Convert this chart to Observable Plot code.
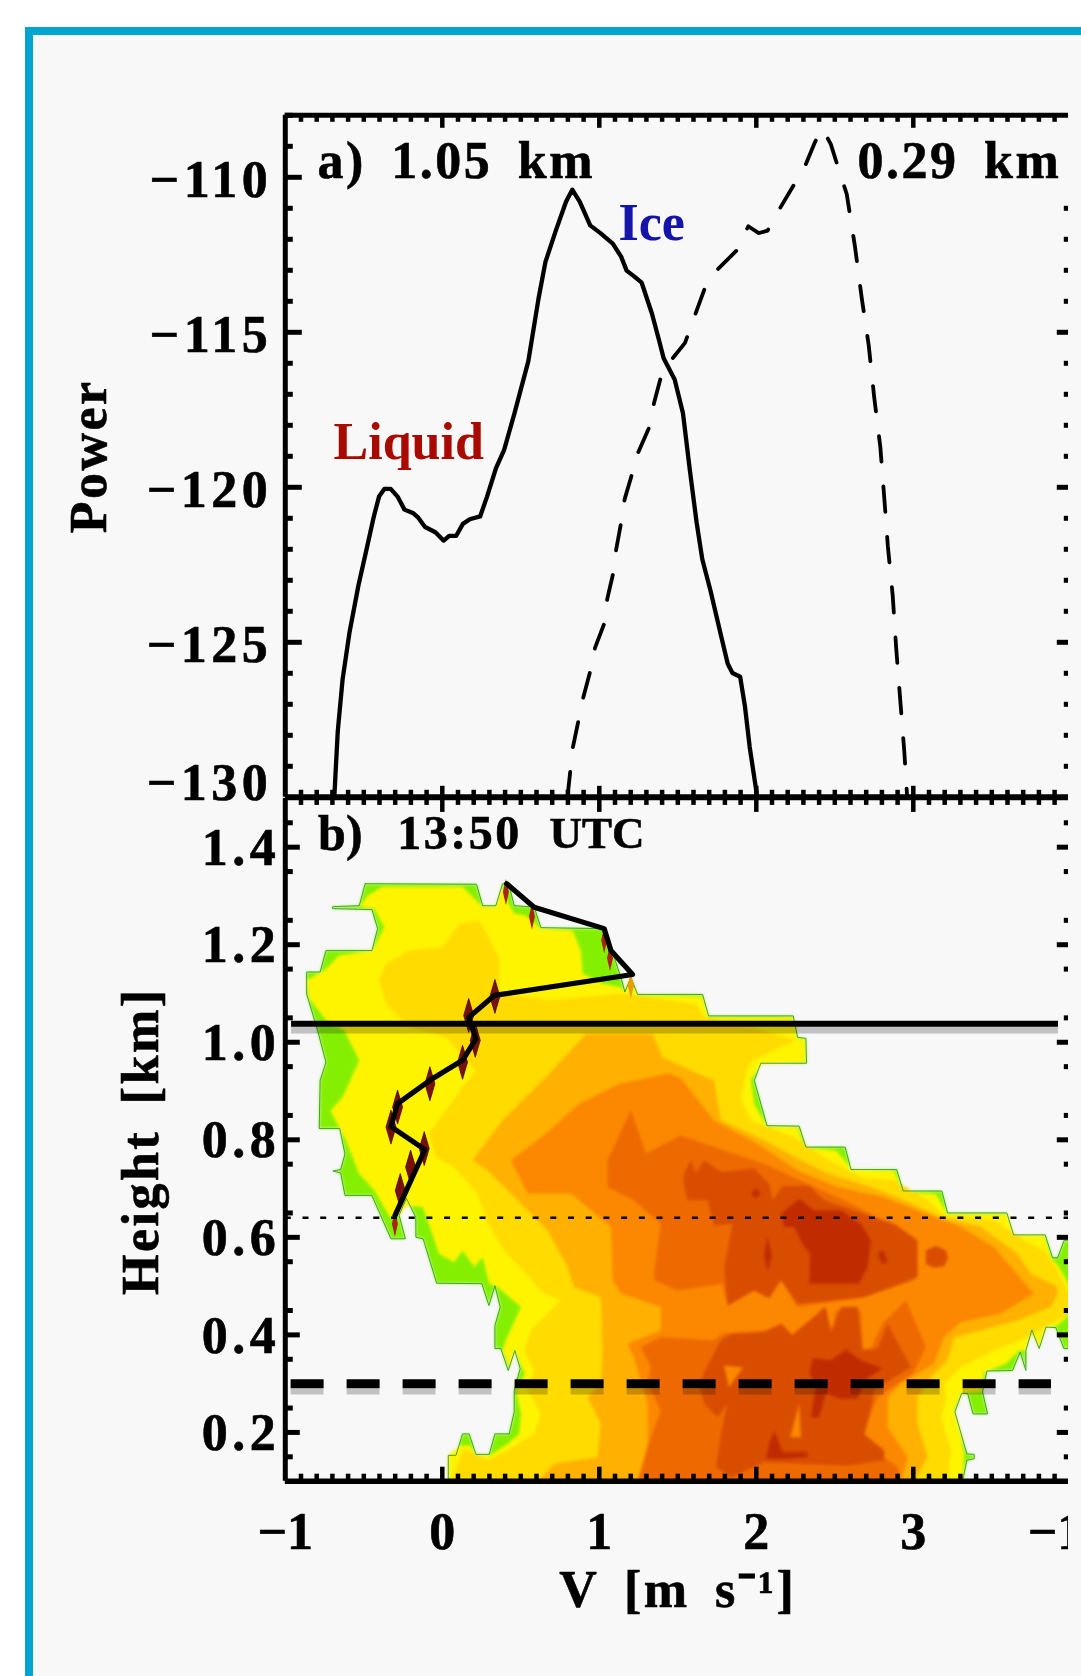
<!DOCTYPE html>
<html><head><meta charset="utf-8">
<script src="https://cdn.jsdelivr.net/npm/d3@7"></script>
<script src="https://cdn.jsdelivr.net/npm/@observablehq/plot@0.6"></script>
<style>
html,body{margin:0;padding:0;background:#fff}
#page{position:absolute;left:25px;top:27px;width:1056px;height:1649px;box-sizing:border-box;background:#f8f8f8;border-left:8px solid #00a6cf;border-top:8.5px solid #00a6cf}
#clip{position:absolute;left:0;top:0;width:1068px;height:1676px;overflow:hidden}
#clip>div{position:absolute;left:0;width:1081px}
svg{display:block;max-width:none !important;width:1081px}
</style></head><body>
<div id="page"></div>
<div id="clip"><div id="a" style="top:0"></div><div id="b" style="top:760px"></div></div>
<script>
// Panel a: Doppler spectra (velocity m/s, power)
const spectrum105km=[[-.688,-130],[-.666,-127.88],[-.635,-126.19],[-.591,-124.68],[-.534,-123.16],[-.482,-121.99],[-.438,-120.98],[-.403,-120.3],[-.368,-120.05],[-.329,-120.05],[-.285,-120.3],[-.241,-120.72],[-.184,-120.84],[-.153,-120.98],[-.11,-121.28],[-.044,-121.45],[.009,-121.72],[.044,-121.57],[.088,-121.57],[.131,-121.18],[.175,-121.03],[.241,-120.94],[.285,-120.3],[.342,-119.38],[.394,-118.79],[.46,-117.61],[.548,-115.93],[.613,-113.91],[.657,-112.73],[.723,-111.72],[.788,-110.79],[.828,-110.4],[.876,-110.79],[.942,-111.55],[1.007,-111.8],[1.086,-112.14],[1.139,-112.56],[1.174,-113.01],[1.218,-113.18],[1.27,-113.4],[1.336,-114.41],[1.38,-115.25],[1.41,-115.84],[1.48,-116.52],[1.533,-117.61],[1.577,-119.46],[1.62,-121.14],[1.656,-122.32],[1.708,-123.33],[1.774,-124.76],[1.818,-125.69],[1.848,-125.99],[1.897,-126.11],[1.927,-127.04],[1.958,-128.38],[2.006,-130]];
const spectrum029km=[[.797,-130],[.832,-128.38],[.898,-126.78],[.942,-125.94],[.972,-125.19],[1.029,-124.43],[1.051,-123.59],[1.086,-122.83],[1.108,-121.99],[1.139,-121.14],[1.161,-120.39],[1.205,-119.63],[1.248,-118.87],[1.314,-118.11],[1.349,-117.27],[1.393,-116.43],[1.467,-115.84],[1.546,-115.34],[1.612,-114.41],[1.673,-113.57],[1.752,-112.98],[1.875,-112.36],[1.949,-111.58],[2.015,-111.8],[2.072,-111.72],[2.146,-111.04],[2.234,-110.29],[2.313,-109.61],[2.374,-108.86],[2.422,-108.43],[2.475,-108.94],[2.527,-109.78],[2.576,-110.54],[2.628,-112.22],[2.672,-113.91],[2.716,-115.42],[2.751,-117.1],[2.79,-118.7],[2.817,-120.47],[2.838,-121.9],[2.869,-123.5],[2.891,-125.19],[2.917,-126.87],[2.943,-128.55],[2.961,-130]];
const powerTicks=[-110,-115,-120,-125];
const powerLabelLast=[-130];
const velocityTicks=[-1,0,1,2,3];
const heightTicks=[1.4,1.2,1,.8,.6,.4,.2];
const levels=["L0","L1","L2","L3","L4","L5","L6","L7"];
const levelColors=["#84f000","#fff400","#ffdb00","#ffb000","#fb8800","#ee6a00","#d94d00","#c02c00"];
// Panel b: filled contour boundaries [velocity, height km]
const contourL0=[[-.491,1.325],[.218,1.324],[.257,1.28],[.341,1.28],[.384,1.325],[.422,1.326],[.458,1.28],[.585,1.277],[.628,1.235],[1.021,1.233],[1.095,1.174],[1.138,1.133],[1.163,1.103],[1.201,1.133],[1.244,1.098],[1.658,1.098],[1.696,1.054],[2.235,1.054],[2.263,1.01],[2.316,1.008],[2.32,.957],[2.029,.957],[1.987,.922],[2.068,.829],[2.273,.828],[2.316,.785],[2.566,.785],[2.603,.739],[2.894,.739],[2.936,.695],[3.182,.695],[3.218,.65],[3.596,.65],[3.639,.605],[3.84,.605],[3.887,.558],[3.919,.558],[3.961,.594],[4,.594],[4,.372],[3.959,.372],[3.908,.415],[3.845,.416],[3.802,.372],[3.755,.41],[3.717,.368],[3.717,.327],[3.681,.365],[3.632,.327],[3.469,.326],[3.441,.283],[3.473,.238],[3.381,.238],[3.346,.28],[3.308,.28],[3.265,.242],[3.341,.156],[3.388,.155],[3.388,.146],[3.341,.143],[3.314,.1],[.038,.1],[.038,.153],[.087,.153],[.129,.197],[.171,.197],[.214,.155],[.299,.155],[.335,.197],[.426,.197],[.458,.242],[.458,.286],[.496,.331],[.462,.368],[.42,.327],[.373,.372],[.335,.372],[.335,.419],[.369,.457],[.335,.501],[.297,.46],[.252,.505],[-.036,.506],[-.122,.597],[-.168,.6],[-.169,.641],[-.229,.68],[-.275,.645],[-.235,.597],[-.327,.597],[-.449,.686],[-.62,.686],[-.647,.732],[-.697,.736],[-.647,.739],[-.62,.771],[-.653,.823],[-.784,.823],[-.778,.922],[-.741,.959],[-.794,1.024],[-.864,1.099],[-.864,1.144],[-.778,1.144],[-.741,1.188],[-.448,1.188],[-.412,1.233],[-.448,1.272],[-.699,1.274],[-.699,1.278],[-.529,1.28]];
const contourL1=[[-.476,1.301],[-.38,1.319],[.129,1.319],[.257,1.278],[.341,1.278],[.384,1.321],[.416,1.287],[.458,1.264],[.532,1.26],[.628,1.233],[.83,1.229],[.883,1.188],[.894,1.141],[1.021,1.12],[1.138,1.113],[1.165,1.103],[1.19,1.131],[1.244,1.096],[1.654,1.094],[1.696,1.051],[2.231,1.051],[2.263,1.007],[2.311,1.007],[2.316,.959],[2.034,.956],[1.966,.922],[1.987,.874],[2.068,.827],[2.263,.826],[2.305,.784],[2.507,.778],[2.582,.751],[2.603,.739],[2.878,.736],[2.936,.693],[3.144,.689],[3.218,.648],[3.596,.648],[3.639,.604],[3.834,.604],[3.876,.559],[3.929,.539],[4,.498],[4,.444],[3.919,.419],[3.845,.415],[3.8,.375],[3.749,.409],[3.717,.368],[3.675,.368],[3.59,.341],[3.452,.324],[3.431,.283],[3.303,.279],[3.26,.245],[3.292,.211],[3.324,.156],[3.314,.1],[.038,.1],[.038,.153],[.114,.173],[.178,.173],[.214,.153],[.305,.153],[.416,.177],[.49,.197],[.501,.238],[.469,.286],[.526,.32],[.462,.368],[.426,.334],[.384,.368],[.405,.389],[.501,.457],[.352,.498],[.299,.505],[.257,.559],[.203,.539],[.129,.573],[.076,.549],[-.02,.566],[-.094,.635],[-.125,.662],[-.229,.665],[-.276,.645],[-.334,.641],[-.432,.696],[-.531,.731],[-.614,.799],[-.713,.86],[-.635,.887],[-.529,.963],[-.625,1.024],[-.741,1.045],[-.848,1.09],[-.864,1.127],[-.752,1.147],[-.657,1.178],[-.444,1.188],[-.37,1.236],[-.434,1.274],[-.525,1.278]];
const contourL2=[[-.359,1.161],[-.211,1.188],[.002,1.195],[.108,1.243],[.235,1.25],[.362,1.174],[.362,1.1],[.703,1.086],[1.127,1.1],[1.615,1.079],[1.668,1.051],[1.976,1.031],[2.252,1.004],[1.976,.963],[1.945,.949],[1.902,.887],[1.966,.84],[2.241,.805],[2.432,.764],[2.666,.723],[2.878,.717],[3.091,.676],[3.197,.645],[3.515,.635],[3.706,.594],[3.834,.573],[3.919,.532],[4,.477],[4,.443],[3.855,.419],[3.685,.389],[3.515,.368],[3.303,.334],[3.197,.3],[3.208,.266],[3.176,.231],[3.24,.163],[3.219,.1],[.055,.1],[.138,.167],[.289,.143],[.416,.163],[.585,.198],[.628,.238],[.543,.286],[.585,.327],[.522,.368],[.564,.409],[.755,.471],[.649,.485],[.394,.573],[.289,.628],[.225,.69],[.074,.744],[-.041,.764],[-.085,.813],[.129,.908],[.214,.942],[.023,1.01],[-.211,1.031],[-.359,1.079],[-.402,1.127]];
const contourL3=[[.193,.758],[.384,.84],[.66,.928],[.915,1.017],[1.339,1.017],[1.403,.969],[1.679,.928],[1.73,.922],[1.775,.84],[2.05,.799],[2.284,.758],[2.454,.731],[2.73,.703],[2.942,.676],[3.176,.641],[3.431,.621],[3.664,.566],[3.749,.525],[3.915,.499],[3.919,.485],[3.876,.457],[3.664,.43],[3.431,.409],[3.26,.395],[3.218,.348],[3.112,.313],[3.027,.272],[3.027,.218],[3.091,.149],[3.005,.1],[.607,.1],[.713,.136],[.989,.149],[1.01,.218],[.925,.272],[1.01,.3],[1.021,.368],[1.01,.477],[.838,.498],[.798,.539],[.671,.614],[.48,.676],[.289,.737]];
const contourL4=[[.66,.813],[.87,.874],[1.125,.915],[1.443,.936],[1.52,.926],[1.73,.84],[2.008,.792],[2.263,.737],[2.518,.703],[2.813,.682],[3.027,.655],[3.303,.621],[3.515,.58],[3.622,.539],[3.768,.485],[3.558,.444],[3.303,.426],[3.195,.395],[3.131,.341],[2.921,.3],[2.836,.272],[2.836,.211],[2.964,.149],[2.921,.1],[1.244,.1],[1.308,.177],[1.308,.259],[1.22,.354],[1.18,.382],[1.392,.409],[1.392,.457],[1.138,.485],[1.085,.512],[1.074,.621],[.819,.69],[.543,.69],[.437,.758]];
const contourL5a=[[1.053,.758],[1.201,.86],[1.297,.772],[1.52,.809],[1.796,.778],[2.05,.751],[2.327,.71],[2.603,.669],[2.921,.614],[3.027,.566],[3.006,.512],[2.687,.477],[2.263,.457],[2.157,.512],[2.082,.475],[1.987,.491],[1.817,.46],[1.785,.505],[1.499,.491],[1.35,.512],[1.348,.526],[1.392,.628],[1.22,.676],[1.053,.703]];
const contourL5b=[[1.265,.375],[1.392,.395],[1.732,.389],[1.785,.403],[2.05,.409],[2.168,.423],[2.22,.399],[2.284,.416],[2.39,.444],[2.422,.457],[2.486,.409],[2.507,.45],[2.666,.45],[2.677,.372],[2.73,.372],[2.804,.423],[2.953,.471],[3.08,.375],[2.997,.321],[2.773,.272],[2.709,.225],[2.687,.19],[2.815,.149],[2.9,.129],[2.921,.1],[1.244,.1],[1.329,.19],[1.392,.245],[1.308,.3],[1.329,.334]];
const contourL6a=[[1.541,.731],[1.583,.758],[1.615,.731],[1.668,.758],[1.775,.734],[1.987,.741],[2.082,.71],[2.104,.676],[2.168,.706],[2.337,.706],[2.432,.676],[2.687,.648],[2.878,.628],[3.027,.594],[3.027,.518],[2.687,.477],[2.263,.464],[2.157,.512],[2.082,.475],[1.987,.491],[1.817,.46],[1.796,.539],[1.849,.628],[1.732,.624],[1.69,.676],[1.562,.676],[1.537,.71]];
const contourL6b=[[1.668,.324],[1.775,.389],[1.839,.402],[2.05,.406],[2.157,.423],[2.231,.399],[2.39,.443],[2.443,.457],[2.475,.406],[2.539,.457],[2.645,.457],[2.677,.368],[2.773,.372],[2.836,.423],[2.985,.334],[2.751,.286],[2.719,.231],[2.687,.197],[2.815,.163],[2.815,.143],[2.582,.132],[2.05,.139],[1.839,.108],[1.743,.129],[1.775,.198],[1.817,.259],[1.753,.231],[1.668,.259],[1.636,.3]];
const contourL6c=[[3.08,.573],[3.144,.583],[3.208,.573],[3.22,.557],[3.195,.54],[3.131,.538],[3.08,.546]];
const holeL4a=[[2.273,.259],[2.284,.19],[2.216,.19]];
const holeL4b=[[1.794,.337],[1.915,.333],[1.826,.292]];
const contourL7a=[[2.157,.648],[2.273,.679],[2.369,.655],[2.539,.655],[2.666,.628],[2.73,.594],[2.709,.539],[2.655,.505],[2.337,.505],[2.343,.567],[2.305,.58],[2.241,.621],[2.178,.621]];
const contourL7b=[[2.359,.352],[2.475,.348],[2.571,.37],[2.666,.348],[2.804,.331],[2.687,.307],[2.645,.269],[2.539,.269],[2.443,.28],[2.401,.231],[2.348,.231],[2.38,.3],[2.337,.321]];
const contourL7c=[[2.114,.204],[2.168,.16],[2.327,.16],[2.327,.149],[2.178,.146],[2.061,.146],[2.082,.177]];
const spotL7a=[[2.072,.602],[2.099,.563],[2.074,.53],[2.048,.563]];
const spotL7b=[[1.997,.7],[2.029,.69],[1.997,.68],[1.966,.69]];
const spotL7c=[[2.811,.573],[2.836,.549],[2.798,.546],[2.773,.569]];
const rings=[["L0",contourL0],["L1",contourL1],["L2",contourL2],["L3",contourL3],["L4",contourL4],["L5",contourL5a],["L5",contourL5b],["L6",contourL6a],["L6",contourL6b],["L6",contourL6c],["L4",holeL4a],["L4",holeL4b],["L7",contourL7a],["L7",contourL7b],["L7",contourL7c],["L7",spotL7a],["L7",spotL7b],["L7",spotL7c]];
// Liquid peak velocity profile
const liquidPeakV=[-.301,-.111,-.327,-.285,-.079,.129,.214,.168,.331,1.212,1.074,1.031,.585,.41];
const liquidPeakH=[.645,.78,.827,.874,.922,.963,1.007,1.051,1.096,1.139,1.188,1.233,1.277,1.325];
const wideDiamonds=[[.335,1.094],[.168,1.055],[.21,1.004],[.129,.959],[-.079,.915],[-.285,.867],[-.327,.826],[-.115,.782],[-.202,.744],[-.268,.696]];
const narrowDiamonds=[[.405,1.308],[.571,1.258],[1.031,1.209],[1.068,1.173],[-.302,.628]];
const goldStreak=[[1.201,1.116]];

const font={fontFamily:"Liberation Serif",fontWeight:"bold"};
const base=()=>({width:1081,marginLeft:284.8,marginRight:11.2,x:{domain:[-1,4],axis:null},style:{background:"transparent",wordSpacing:"10px",overflow:"visible"}});
const minorX=d3.range(-9,40).map(d=>d/10).filter(d=>!Number.isInteger(d));
const majorX=[0,1,2,3];
const FW=785;

function tx(vals,pos,len,fh,sw=4.5){return Plot.tickX(vals,{x:d=>d,stroke:"#000",strokeWidth:sw,...(pos==="top"?{insetBottom:fh-len}:{insetTop:fh-len})});}
function ty(vals,pos,len,sw=5){return Plot.tickY(vals,{y:d=>d,stroke:"#000",strokeWidth:sw,...(pos==="left"?{insetRight:FW-len}:{insetLeft:FW-len})});}
function dressText(svg){
  svg.querySelectorAll("text").forEach(t=>{
    const s=t.textContent;
    if(s==="Liquid"||s==="Ice") return;
    t.style.stroke="#000"; t.style.strokeWidth=".6px";
    if(/^[\u2212\d.]+$/.test(s)&&s.length>2) t.style.letterSpacing="4.5px";
    else if(s.length>2&&s!=="UTC") t.style.letterSpacing="2.5px";
  });
}

// PANEL A
const fhA=682;
const minorP=d3.range(-129,-107).filter(d=>d%5!==0);
const txt=(items,o)=>Plot.text(items,{x:"x",y:"y",text:"t",fill:"f",...font,fontSize:52,...o});
const a=Plot.plot({...base(),height:830,marginTop:114.8,marginBottom:33.2,
  y:{domain:[-130,-108],axis:null},
  marks:[
    Plot.line(spectrum105km,{x:d=>d[0],y:d=>d[1],stroke:"#000",strokeWidth:4.3}),
    Plot.line(spectrum029km,{x:d=>d[0],y:d=>d[1],stroke:"#000",strokeWidth:3.8,strokeDasharray:"25.5,25"}),
    Plot.ruleY([-108],{stroke:"#000",strokeWidth:5}),
    Plot.ruleY([-130],{stroke:"#000",strokeWidth:6}),
    Plot.ruleX([-1],{stroke:"#000",strokeWidth:5}),
    tx(minorX,"top",7,fhA),tx(majorX,"top",13,fhA),
    tx(minorX,"bottom",7,fhA),tx(majorX,"bottom",11,fhA),
    ty(minorP,"left",8),ty(powerTicks,"left",17),
    ty(minorP.filter(d=>d<=-111),"right",6),ty([-115,-120,-125],"right",13),
    Plot.text(powerTicks,{x:()=>-1,y:d=>d,text:d=>"\u2212"+(-d),dx:-13,dy:3,textAnchor:"end",...font,fontSize:52}),
    Plot.text(powerLabelLast,{x:()=>-1,y:d=>d,text:d=>"\u2212"+(-d),dx:-13,dy:-14,textAnchor:"end",...font,fontSize:52}),
    txt([{x:-.795,y:-109.5,t:"a) 1.05 km",f:"#000"},{x:2.645,y:-109.5,t:"0.29 km",f:"#000"},{x:-.693,y:-118.54,t:"Liquid",f:"#a80a00"},{x:1.122,y:-111.49,t:"Ice",f:"#1414a8"}],{textAnchor:"start"}),
    Plot.text(["Power"],{x:()=>-2.25,y:()=>-119,text:d=>d,rotate:-90,...font,fontSize:52})
  ]});
dressText(a);
document.getElementById("a").append(a);

// PANEL B
const fhB=682.8;
const rows=rings.flatMap(([level,pts],i)=>pts.map(([v,h])=>({v,h,level,ring:i})));
const minorH=d3.range(3,30,2).map(d=>d*.05).filter(d=>d>.1&&d<1.5);
const rightDiamond={draw(c){c.moveTo(0,-17);c.lineTo(5,0);c.lineTo(0,17);c.lineTo(-5,0);c.closePath();}};
const thinDiamond={draw(c){c.moveTo(0,-13);c.lineTo(3,0);c.lineTo(0,13);c.lineTo(-3,0);c.closePath();}};
const profile=liquidPeakV.map((v,i)=>({v,h:liquidPeakH[i]}));
const b=Plot.plot({...base(),height:916,marginTop:37.9,marginBottom:195.3,
  y:{domain:[.1,1.5],axis:null},
  color:{type:"ordinal",domain:levels,range:levelColors},
  marks:[
    Plot.line(rows,{x:"v",y:"h",z:"ring",fill:"level",stroke:"none",imageFilter:"blur(1.4px)"}),
    Plot.line([...contourL0,contourL0[0]],{x:d=>d[0],y:d=>d[1],stroke:"#2f9a2a",strokeWidth:.9}),
    Plot.dot(wideDiamonds,{x:d=>d[0],y:d=>d[1],symbol:rightDiamond,fill:"#7a100c",stroke:"#3a0505",strokeWidth:.7}),
    Plot.dot(narrowDiamonds,{x:d=>d[0],y:d=>d[1],symbol:thinDiamond,fill:"#a8240c",stroke:"none"}),
    Plot.dot(goldStreak,{x:d=>d[0],y:d=>d[1],symbol:thinDiamond,fill:"#f09a00",stroke:"none"}),
    Plot.line(profile,{x:"v",y:"h",stroke:"#000",strokeWidth:5.2}),
    Plot.ruleY([1.025],{x1:()=>-.96,x2:()=>3.925,stroke:"#c8c8c8",strokeWidth:7,mixBlendMode:"multiply"}),
    Plot.ruleY([1.038],{x1:()=>-.96,x2:()=>3.925,stroke:"#000",strokeWidth:6}),
    Plot.ruleY([.284],{x1:()=>-.963,x2:()=>3.88,stroke:"#c8c8c8",strokeWidth:6,strokeDasharray:"33,23",mixBlendMode:"multiply"}),
    Plot.ruleY([.3],{x1:()=>-.963,x2:()=>3.88,stroke:"#000",strokeWidth:9,strokeDasharray:"33,23"}),
    Plot.ruleY([.64],{stroke:"#000",strokeWidth:2.5,strokeDasharray:"6,11.7"}),
    Plot.ruleY([.1],{stroke:"#000",strokeWidth:5.5}),
    Plot.ruleX([-1],{stroke:"#000",strokeWidth:5}),
    tx(minorX,"top",7,fhB),tx(majorX,"top",14,fhB),
    tx(minorX,"bottom",7,fhB),tx(majorX,"bottom",14,fhB),
    ty(minorH,"left",8),ty(heightTicks,"left",15),
    ty(minorH,"right",6),ty(heightTicks,"right",13),
    Plot.text(heightTicks,{x:()=>-1,y:d=>d,text:d=>d3.format(".1f")(d),dx:-5,dy:1,textAnchor:"end",...font,fontSize:52}),
    Plot.text([...velocityTicks.map(v=>({v,t:v<0?"\u2212"+(-v):String(v)})),{v:3.906,t:"\u22121"}],{x:"v",y:()=>.1,text:"t",dy:51,...font,fontSize:52}),
    Plot.text(["V [m s\u207B\u00B9]"],{x:()=>1.5,y:()=>.1,text:d=>d,dy:109,...font,fontSize:52}),
    Plot.text(["Height [km]"],{x:()=>-1.92,y:()=>.797,text:d=>d,rotate:-90,...font,fontSize:52}),
    Plot.text(["b)"],{x:()=>-.791,y:()=>1.428,text:d=>d,textAnchor:"start",...font,fontSize:50}),
    Plot.text(["13:50"],{x:()=>-.287,y:()=>1.428,text:d=>d,textAnchor:"start",...font,fontSize:48}),
    Plot.text(["UTC"],{x:()=>.683,y:()=>1.428,text:d=>d,textAnchor:"start",...font,fontSize:45})
  ]});
dressText(b);
document.getElementById("b").append(b);
</script>
</body></html>
